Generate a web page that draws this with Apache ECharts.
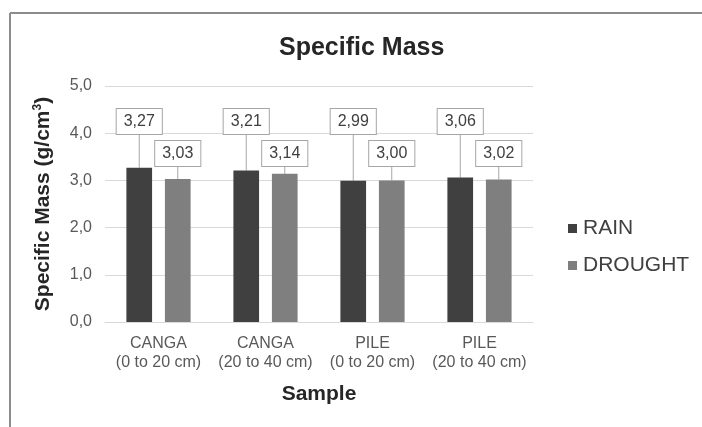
<!DOCTYPE html>
<html>
<head>
<meta charset="utf-8">
<script src="https://cdn.jsdelivr.net/npm/echarts@6/dist/echarts.min.js"></script>
<style>
  html, body { margin: 0; padding: 0; background: #fff; }
  #chart { width: 702px; height: 427px; }
</style>
</head>
<body>
<div id="chart"></div>
<script>
// Specific mass of soil samples, rainy vs dry season
const categories = ['CANGA\n(0 to 20 cm)', 'CANGA\n(20 to 40 cm)', 'PILE\n(0 to 20 cm)', 'PILE\n(20 to 40 cm)'];
const rainValues = [3.27, 3.21, 2.99, 3.06];
const droughtValues = [3.03, 3.14, 3.00, 3.02];
const yTicks = [0, 1, 2, 3, 4, 5];

const FONT = '"Liberation Sans", Arial, sans-serif';
const GRID = { left: 105, top: 86, width: 428, height: 236 };
const Y_MAX = yTicks[yTicks.length - 1];

// callout boxes sit on a common level per series, joined to the bar by a guide line
function levelToPixel(level) {
  return GRID.top + GRID.height * (1 - level / Y_MAX);
}
const fmt = v => v.toFixed(2).replace('.', ',');

function series(name, values, color, calloutLevel) {
  return {
    name: name,
    type: 'bar',
    data: values,
    barGap: '50%',
    barCategoryGap: '40%',
    itemStyle: { color: color },
    label: {
      show: true,
      position: 'top',
      formatter: p => fmt(p.value),
      fontFamily: FONT,
      fontSize: 16,
      color: '#404040',
      backgroundColor: '#fff',
      borderColor: '#a6a6a6',
      borderWidth: 1,
      padding: [5, 7, 4, 7]
    },
    labelLine: {
      show: true,
      lineStyle: { color: '#a6a6a6', width: 1 }
    },
    labelLayout: p => ({
      x: p.rect.x + p.rect.width / 2,
      y: levelToPixel(calloutLevel),
      align: 'center',
      verticalAlign: 'middle'
    })
  };
}

const chart = echarts.init(document.getElementById('chart'), null, { renderer: 'canvas' });
chart.setOption({
  animation: false,
  backgroundColor: '#fff',
  textStyle: { fontFamily: FONT },
  title: {
    text: 'Specific Mass',
    left: 274,
    top: 31,
    textStyle: { fontFamily: FONT, fontSize: 25, fontWeight: 'bold', color: '#262626' }
  },
  legend: {
    orient: 'vertical',
    left: 563,
    top: 213,
    itemWidth: 9,
    itemHeight: 9,
    itemGap: 16,
    icon: 'rect',
    textStyle: { fontFamily: FONT, fontSize: 21, color: '#404040', padding: [0, 0, 0, 1] },
    data: ['RAIN', 'DROUGHT']
  },
  grid: GRID,
  xAxis: {
    type: 'category',
    data: categories,
    name: 'Sample',
    nameLocation: 'middle',
    nameGap: 62,
    nameTextStyle: { fontFamily: FONT, fontSize: 21, fontWeight: 'bold', color: '#262626' },
    axisLine: { lineStyle: { color: '#d9d9d9', width: 1 } },
    axisTick: { show: false },
    axisLabel: {
      interval: 0,
      margin: 12,
      fontFamily: FONT,
      fontSize: 16,
      lineHeight: 19,
      color: '#595959'
    }
  },
  yAxis: {
    type: 'value',
    min: yTicks[0],
    max: Y_MAX,
    interval: 1,
    name: 'Specific Mass (g/cm{sup|3})',
    nameLocation: 'middle',
    nameRotate: 90,
    nameGap: 51,
    nameTextStyle: {
      fontFamily: FONT, fontSize: 21, fontWeight: 'bold', color: '#262626',
      rich: { sup: { fontFamily: FONT, fontSize: 12, fontWeight: 'bold', color: '#262626', verticalAlign: 'top', padding: [0, 0, 10, 0] } }
    },
    axisLine: { show: false },
    axisTick: { show: false },
    axisLabel: {
      margin: 13,
      fontFamily: FONT,
      fontSize: 16,
      color: '#595959',
      formatter: v => v.toFixed(1).replace('.', ',')
    },
    splitLine: { lineStyle: { color: '#d9d9d9', width: 1 } }
  },
  graphic: [
    // frame around the chart area
    { type: 'line', shape: { x1: 10, y1: 13, x2: 702, y2: 13 }, style: { stroke: '#8c8c8c', lineWidth: 2 } },
    { type: 'line', shape: { x1: 10, y1: 13, x2: 10, y2: 427 }, style: { stroke: '#8c8c8c', lineWidth: 2 } }
  ],
  series: [
    series('RAIN', rainValues, '#404040', 4.25),
    series('DROUGHT', droughtValues, '#7f7f7f', 3.57)
  ]
});
</script>
</body>
</html>
